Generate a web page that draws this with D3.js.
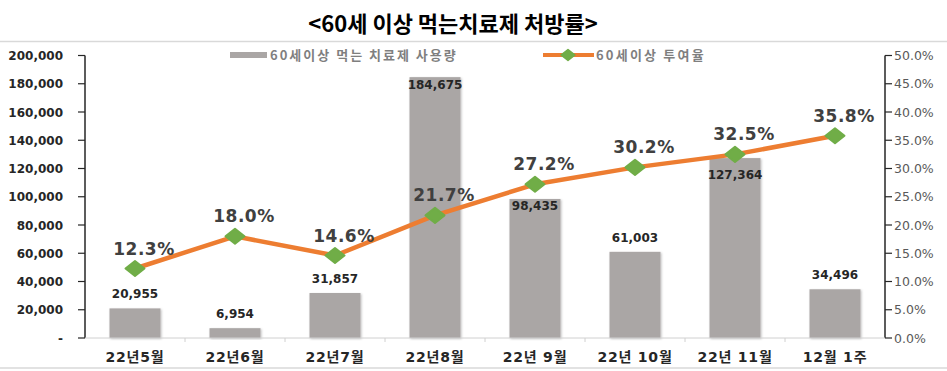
<!DOCTYPE html>
<html><head><meta charset="utf-8">
<script src="https://cdn.jsdelivr.net/npm/d3@7"></script>
<style>
body{margin:0;background:#fff;}
svg{display:block;}
</style></head>
<body><svg id="c" width="947" height="371"></svg>
<script>
const title = "<60세 이상 먹는치료제 처방률>";
const categories = ["22년5월","22년6월","22년7월","22년8월","22년 9월","22년 10월","22년 11월","12월 1주"];
const usage = [20955, 6954, 31857, 184675, 98435, 61003, 127364, 34496];
const rate = [12.3, 18.0, 14.6, 21.7, 27.2, 30.2, 32.5, 35.8];
const leftTicks = [0,20000,40000,60000,80000,100000,120000,140000,160000,180000,200000];
const rightTicks = [0,5,10,15,20,25,30,35,40,45,50];
const seriesNames = ["60세이상 먹는 치료제 사용량","60세이상 투여율"];

const svg = d3.select("#c");
const defs = svg.append("defs");
const f = defs.append("filter").attr("id","sh").attr("x","-20%").attr("y","-20%").attr("width","140%").attr("height","140%");
f.append("feDropShadow").attr("dx",1).attr("dy",1).attr("stdDeviation",1.2).attr("flood-color","#000").attr("flood-opacity",0.25);

const m = {l:85, r:885, t:55.5, b:338};
const x = d3.scaleBand().domain(categories).range([m.l, m.r]).paddingInner(0.49).paddingOuter(0.245);
const xb = d3.scaleBand().domain(categories).range([m.l, m.r]);
const yL = d3.scaleLinear().domain([0,200000]).range([m.b, m.t]);
const yR = d3.scaleLinear().domain([0,50]).range([m.b, m.t]);
const numFont = "'DejaVu Sans','Noto Sans CJK KR',sans-serif";
const korFont = "'Noto Sans CJK KR','Noto Sans',sans-serif";
const cx = (i)=>xb(categories[i])+xb.bandwidth()/2;

// title
svg.append("text").attr("x",453).attr("y",32).attr("text-anchor","middle")
  .attr("font-family",korFont).attr("font-weight","bold").attr("font-size",22).attr("fill","#000").text(title);
// separator lines
svg.append("line").attr("x1",0).attr("x2",947).attr("y1",41.5).attr("y2",41.5).attr("stroke","#d9d9d9").attr("stroke-width",1.5);
svg.append("line").attr("x1",0).attr("x2",947).attr("y1",368).attr("y2",368).attr("stroke","#d9d9d9").attr("stroke-width",1.5);

// legend
svg.append("rect").attr("x",230).attr("y",52).attr("width",37).attr("height",6).attr("fill","#aaa6a5");
svg.append("text").attr("x",270).attr("y",60).attr("font-family",korFont).attr("font-weight","bold")
  .attr("font-size",13).attr("letter-spacing",2).attr("fill","#7f7f7f").text(seriesNames[0]);
svg.append("line").attr("x1",543).attr("x2",594).attr("y1",55).attr("y2",55).attr("stroke","#ed7d31").attr("stroke-width",4);
const diamond = (w,h)=>`M0,${-h/2}L${w/2},0L0,${h/2}L${-w/2},0Z`;
svg.append("path").attr("d",diamond(14,11)).attr("transform","translate(568,55)").attr("fill","#70ad47")
  .attr("stroke","#70ad47").attr("stroke-width",1.5).attr("stroke-linejoin","round");
svg.append("text").attr("x",596).attr("y",60).attr("font-family",korFont).attr("font-weight","bold")
  .attr("font-size",13).attr("letter-spacing",2.2).attr("fill","#7f7f7f").text(seriesNames[1]);

// bars
svg.append("g").selectAll("rect").data(usage).join("rect")
  .attr("x",(d,i)=>x(categories[i])).attr("width",x.bandwidth())
  .attr("y",d=>yL(d)).attr("height",d=>yL(0)-yL(d)).attr("fill","#aaa6a5").attr("filter","url(#sh)");
svg.append("g").selectAll("text").data(usage).join("text")
  .attr("x",(d,i)=>x(categories[i])+x.bandwidth()/2)
  .attr("y",(d,i)=>{
    const top = yL(d), py = yR(rate[i]);
    if (d <= 90000) return top - 10;
    if (py > top - 8 && py < top + 20) return py + 25;
    return top + 11.5;
  })
  .attr("text-anchor","middle").attr("font-family",numFont).attr("font-weight","bold")
  .attr("font-size",12).attr("fill","#262626").text(d=>d3.format(",")(d));

// left axis
const gL = svg.append("g").attr("transform",`translate(${m.l},0)`);
gL.append("line").attr("y1",m.t).attr("y2",m.b).attr("stroke","#262626").attr("stroke-width",1.5);
gL.selectAll("line.t").data(leftTicks).join("line").attr("class","t")
  .attr("x1",-7).attr("x2",0).attr("y1",d=>yL(d)).attr("y2",d=>yL(d)).attr("stroke","#262626").attr("stroke-width",1.2);
gL.selectAll("text").data(leftTicks).join("text")
  .attr("x",-22).attr("y",d=>yL(d)+4.5).attr("text-anchor","end")
  .attr("font-family",numFont).attr("font-weight","bold").attr("font-size",12).attr("fill","#262626")
  .text(d=>d===0?"-":d3.format(",")(d));

// right axis
const gR = svg.append("g").attr("transform",`translate(${m.r},0)`);
gR.append("line").attr("y1",m.t).attr("y2",m.b).attr("stroke","#262626").attr("stroke-width",1.5);
gR.selectAll("line.t").data(rightTicks).join("line").attr("class","t")
  .attr("x1",0).attr("x2",7).attr("y1",d=>yR(d)).attr("y2",d=>yR(d)).attr("stroke","#262626").attr("stroke-width",1.2);
gR.selectAll("text").data(rightTicks).join("text")
  .attr("x",9).attr("y",d=>yR(d)+4.5).attr("text-anchor","start")
  .attr("font-family",numFont).attr("font-size",12.5).attr("fill","#595959")
  .text(d=>d.toFixed(1)+"%");

// x axis baseline
svg.append("line").attr("x1",m.l).attr("x2",m.r).attr("y1",m.b).attr("y2",m.b).attr("stroke","#d0d0d0").attr("stroke-width",1);
svg.append("g").selectAll("line").data(categories.slice(1)).join("line")
  .attr("x1",d=>xb(d)).attr("x2",d=>xb(d)).attr("y1",m.b).attr("y2",m.b+4).attr("stroke","#d0d0d0");
svg.append("g").selectAll("text").data(categories).join("text")
  .attr("x",d=>xb(d)+xb.bandwidth()/2).attr("y",362).attr("text-anchor","middle")
  .attr("font-family",numFont).attr("font-weight","bold").attr("font-size",14).attr("letter-spacing",0.8)
  .attr("fill","#262626").text(d=>d);

// line
svg.append("path").datum(rate).attr("fill","none").attr("stroke","#ed7d31").attr("stroke-width",4.5)
  .attr("stroke-linejoin","round").attr("d",d3.line().x((d,i)=>cx(i)).y(d=>yR(d)));
svg.append("g").selectAll("path").data(rate).join("path")
  .attr("d",diamond(19,15)).attr("transform",(d,i)=>`translate(${cx(i)},${yR(d)})`)
  .attr("fill","#70ad47").attr("stroke","#70ad47").attr("stroke-width",2).attr("stroke-linejoin","round");
svg.append("g").selectAll("text").data(rate).join("text")
  .attr("x",(d,i)=>cx(i)+9).attr("y",d=>yR(d)-14).attr("text-anchor","middle")
  .attr("font-family",numFont).attr("font-weight","bold").attr("font-size",17).attr("fill","#404040")
  .attr("letter-spacing",0.5).text(d=>d.toFixed(1)+"%");
</script></body></html>
